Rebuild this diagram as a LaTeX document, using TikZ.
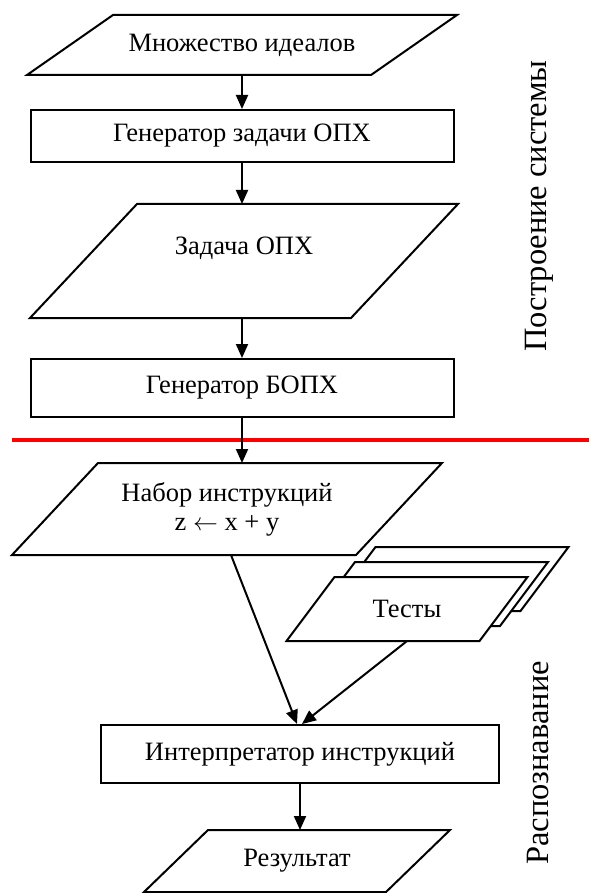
\documentclass[tikz,border=0pt]{standalone}
\usepackage{fontspec}
\setmainfont{Liberation Serif}
\usetikzlibrary{arrows.meta,backgrounds}
\tikzset{arrow/.style={-{Triangle[length=14pt,width=12pt]}, line width=2pt}}
\tikzset{procbox/.style={draw, line width=2pt, minimum width=423pt, minimum height=#1, align=center}}
\tikzset{databox/.style={outer sep=0pt, minimum height=#1, align=center}}
\newcommand{\slantbox}[3][]{%
  \draw[line width=2pt, #1] ([xshift=#3/2]#2.north west) -- ([xshift=#3/2]#2.north east)
    -- ([xshift=-#3/2]#2.south east) -- ([xshift=-#3/2]#2.south west) -- cycle;}

\begin{document}
\begin{tikzpicture}[x=1pt, y=-1pt, font=\fontsize{26.5}{29}\selectfont]
    \useasboundingbox (0,0) rectangle (589,893);
    \node (ideals) [databox=60, minimum width=344] at (242,45) {Множество идеалов};
    \node (genTask) [procbox=52] at (242,136) {Генератор задачи ОПХ};
    \node (task) [databox=114, minimum width=321, label={[yshift=13pt]center:Задача ОПХ}] at (244,261) {};
    \node (genBopx) [procbox=58] at (242,388) {Генератор БОПХ};
    \node (instr) [databox=92, minimum width=344] at (227,509) {Набор инструкций\\z $\leftarrow$ x + y};
    \node (tests) [databox=64, minimum width=193] at (407,609) {Тесты};
    \node (testsM) [databox=64, minimum width=193] at ([shift={(20.5,-15)}]tests) {};
    \node (testsB) [databox=64, minimum width=193] at ([shift={(41,-30)}]tests) {};
    \node (interp) [procbox=58, minimum width=398] at (300,754) {Интерпретатор инструкций};
    \node (result) [databox=62, minimum width=242] at (297,861) {Результат};
    \node (build) [rotate=90, font=\fontsize{32.5}{36}\selectfont] at (539,206) {Построение системы};
    \node (recog) [rotate=90, font=\fontsize{32.5}{36}\selectfont] at (538,763) {Распознавание};
    \slantbox{ideals}{86}
    \slantbox{task}{107}
    \slantbox{instr}{86}
    \slantbox{result}{64}
    \begin{scope}[on background layer]
      \slantbox[fill=white]{testsB}{48}
      \slantbox[fill=white]{testsM}{48}
      \slantbox[fill=white]{tests}{48}
    \end{scope}
    \draw[red, line width=3.5pt] (12,440) -- (589,440);
    \draw[arrow] (ideals.south) -- (genTask.north);
    \draw[arrow] (genTask.south) -- (genTask.south |- task.north);
    \draw[arrow] (task.south -| genBopx.north) -- (genBopx.north);
    \draw[arrow] (genBopx.south) -- (genBopx.south |- instr.north);
    \draw[arrow] ([xshift=4pt]instr.south) -- ([xshift=-3pt]interp.north);
    \draw[arrow] (tests.south) -- ([xshift=2pt]interp.north);
    \draw[arrow] (interp.south) -- (interp.south |- result.north);
\end{tikzpicture}
\end{document}
